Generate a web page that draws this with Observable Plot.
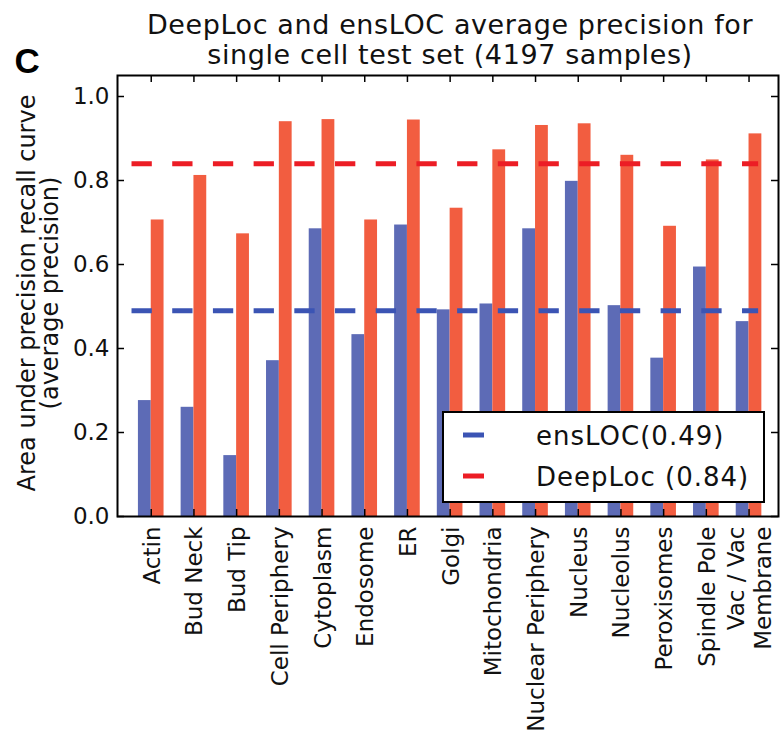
<!DOCTYPE html>
<html>
<head>
<meta charset="utf-8">
<script src="https://cdn.jsdelivr.net/npm/d3@7"></script>
<script src="https://cdn.jsdelivr.net/npm/@observablehq/plot@0.6"></script>
<style>
  body { margin: 0; background: #fff; }
  svg { display: block; }
</style>
</head>
<body>
<div id="chart"></div>
<script>
// Per-compartment average precision on the single cell test set
const categories = [
  "Actin", "Bud Neck", "Bud Tip", "Cell Periphery", "Cytoplasm", "Endosome", "ER",
  "Golgi", "Mitochondria", "Nuclear Periphery", "Nucleus", "Nucleolus",
  "Peroxisomes", "Spindle Pole", "Vac / Vac\nMembrane"
];
const ensLOC = [0.276, 0.260, 0.145, 0.371, 0.685, 0.433, 0.694, 0.492, 0.506, 0.685, 0.798, 0.502, 0.377, 0.594, 0.464];
const deepLoc = [0.706, 0.812, 0.673, 0.940, 0.945, 0.706, 0.944, 0.734, 0.873, 0.931, 0.935, 0.860, 0.691, 0.849, 0.911];

// Mean average precision of each model, as given in the legend
const seriesNames = ["ensLOC", "DeepLoc"];
const seriesMeans = [0.49, 0.84];
const legendLabels = ["ensLOC(0.49)", "DeepLoc (0.84)"];

const yTicks = [0.0, 0.2, 0.4, 0.6, 0.8, 1.0];
const titleLines = ["DeepLoc and ensLOC average precision for", "single cell test set (4197 samples)"];
const yLabel = "Area under precision recall curve\n(average precision)";
const panelLetter = "C";

// Styling
const barColors = ["#5d6bb6", "#f25d40"];
const lineColors = ["#3b54b4", "#ec1d25"];

const W = 781, H = 741;
const M = {top: 75, right: 3, bottom: 225, left: 117};
const innerW = W - M.left - M.right;
const innerH = H - M.top - M.bottom;
const tickLen = 7;
const barW = 0.3;

const idx = categories.map((_, i) => i);
const ensRows = idx.map(i => ({i, value: ensLOC[i]}));
const deepRows = idx.map(i => ({i, value: deepLoc[i]}));

// Boxed legend in the lower-right corner of the frame
function legend(index, scales, values, dims) {
  const right = dims.width - dims.marginRight - 14;
  const bottom = dims.height - dims.marginBottom - 14;
  const bw = 321, bh = 90;
  const left = right - bw, top = bottom - bh;
  const g = d3.create("svg:g");
  g.append("rect")
    .attr("x", left).attr("y", top).attr("width", bw).attr("height", bh)
    .attr("fill", "#fff").attr("stroke", "#000").attr("stroke-width", 2);
  legendLabels.forEach((label, k) => {
    const cy = top + 23 + k * 41;
    g.append("line")
      .attr("x1", left + 20).attr("x2", left + 41)
      .attr("y1", cy).attr("y2", cy)
      .attr("stroke", lineColors[k]).attr("stroke-width", 5);
    g.append("text")
      .attr("x", left + 93).attr("y", cy + 10)
      .attr("text-anchor", "start")
      .attr("font-size", 26).attr("letter-spacing", 1)
      .attr("fill", "#111")
      .text(label);
  });
  return g.node();
}

const chart = Plot.plot({
  width: W,
  height: H,
  marginTop: M.top,
  marginRight: M.right,
  marginBottom: M.bottom,
  marginLeft: M.left,
  style: {fontFamily: "'DejaVu Sans', sans-serif", background: "#fff", color: "#111"},
  x: {domain: [-0.79, 14.69], axis: null},
  y: {domain: [0, 1.05], axis: null},
  marks: [
    // grouped bars: ensLOC left of the tick, DeepLoc right of it
    Plot.rect(ensRows, {x1: d => d.i - barW, x2: d => d.i, y1: 0, y2: "value", fill: barColors[0]}),
    Plot.rect(deepRows, {x1: d => d.i, x2: d => d.i + barW, y1: 0, y2: "value", fill: barColors[1]}),

    // dashed mean lines
    Plot.ruleY([seriesMeans[0]], {y: d => d, x1: -0.45, x2: categories.length - 1 + 0.225,
      stroke: lineColors[0], strokeWidth: 5, strokeDasharray: "20.3,20.4"}),
    Plot.ruleY([seriesMeans[1]], {y: d => d, x1: -0.45, x2: categories.length - 1 + 0.225,
      stroke: lineColors[1], strokeWidth: 5, strokeDasharray: "20.3,20.4"}),

    // inward tick marks on all four sides
    Plot.ruleY(yTicks, {y: d => d, insetRight: innerW - tickLen, stroke: "#000", strokeWidth: 1.5}),
    Plot.ruleY(yTicks, {y: d => d, insetLeft: innerW - tickLen, stroke: "#000", strokeWidth: 1.5}),
    Plot.ruleX(idx, {x: d => d, insetBottom: innerH - tickLen, stroke: "#000", strokeWidth: 1.5}),
    Plot.ruleX(idx, {x: d => d, insetTop: innerH - tickLen, stroke: "#000", strokeWidth: 1.5}),

    Plot.frame({stroke: "#000", strokeWidth: 2}),

    // tick labels
    Plot.text(yTicks, {y: d => d, text: d => d3.format(".1f")(d), frameAnchor: "left",
      textAnchor: "end", dx: -8, fontSize: 23, fill: "#111"}),
    Plot.text(idx, {x: d => d, text: d => categories[d], frameAnchor: "bottom", dy: 10,
      rotate: -90, textAnchor: "end", lineAnchor: "middle", fontSize: 23, lineHeight: 1.15, fill: "#111"}),

    // axis title, chart title and panel letter
    Plot.text([yLabel], {text: d => d, frameAnchor: "left", rotate: -90, textAnchor: "middle",
      lineAnchor: "middle", dx: -78.5, dy: -3, fontSize: 24, lineHeight: 0.96, fill: "#111"}),
    Plot.text([titleLines[0]], {text: d => d, frameAnchor: "top", lineAnchor: "bottom",
      dx: 2, dy: 33 - M.top, fontSize: 27, fill: "#111"}),
    Plot.text([titleLines[1]], {text: d => d, frameAnchor: "top", lineAnchor: "bottom",
      dx: 2, dy: 63 - M.top, fontSize: 27, fill: "#111"}),
    Plot.text([panelLetter], {text: d => d, frameAnchor: "top-left", textAnchor: "start",
      lineAnchor: "bottom", dx: 14 - M.left, dy: 72 - M.top, fontSize: 35, fontWeight: "bold",
      fontFamily: "'Liberation Sans', Arial, sans-serif", fill: "#000"}),

    legend
  ]
});

// widen the title tracking slightly
d3.select(chart).selectAll("text")
  .filter(function() { return titleLines.includes(this.textContent); })
  .attr("letter-spacing", 0.6);

document.getElementById("chart").append(chart);
</script>
</body>
</html>
